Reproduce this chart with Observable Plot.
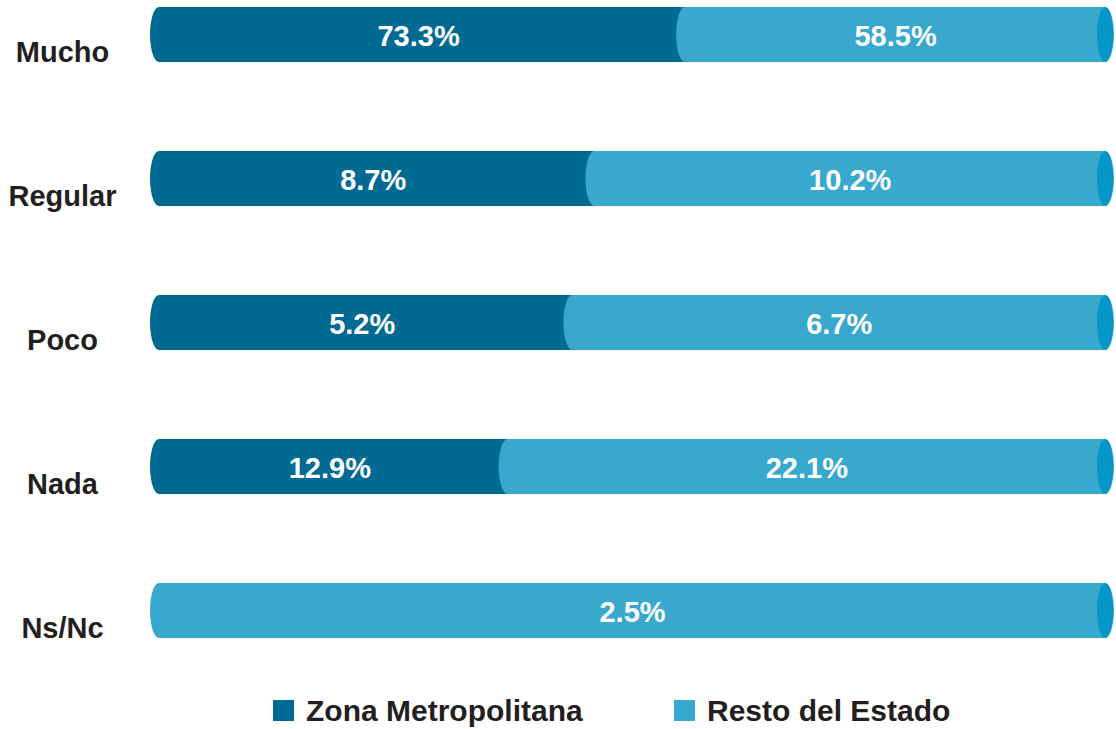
<!DOCTYPE html>
<html>
<head>
<meta charset="utf-8">
<script src="https://cdn.jsdelivr.net/npm/d3@7"></script>
<script src="https://cdn.jsdelivr.net/npm/@observablehq/plot@0.6"></script>
<style>
  html, body { margin: 0; padding: 0; background: #fff; }
  body { width: 1116px; height: 729px; overflow: hidden; font-family: "Liberation Sans", Arial, sans-serif; }
  #legend { position: relative; height: 49px; }
  .item { position: absolute; top: 20px; display: flex; align-items: center; font-weight: bold; font-size: 30px; color: #231f20; line-height: 21px; }
  .sw { width: 21px; height: 21px; margin-right: 12px; }
</style>
</head>
<body>
<div id="chart"></div>
<div id="legend"></div>
<script>
const categories = ["Mucho", "Regular", "Poco", "Nada", "Ns/Nc"];
const zona = [73.3, 8.7, 5.2, 12.9, 0];
const resto = [58.5, 10.2, 6.7, 22.1, 2.5];
const seriesNames = ["Zona Metropolitana", "Resto del Estado"];
const colors = ["#006a93", "#38a8cf"];
const capColor = "#0596c8";

const rows = categories.map((c, i) => {
  const t = zona[i] + resto[i];
  return {cat: c, zona: zona[i], resto: resto[i], split: zona[i] / t};
});
const fmt = v => v.toFixed(1) + "%";
const RX = 9;

const chart = Plot.plot({
  width: 1116,
  height: 680,
  marginLeft: 0, marginRight: 0, marginTop: 0, marginBottom: 0,
  x: {domain: [0, 1], range: [159, 1105], axis: null},
  y: {type: "band", domain: categories, range: [6, 639.5], paddingInner: 0.62, paddingOuter: 0, axis: null},
  style: {fontFamily: "'Liberation Sans', Arial, sans-serif"},
  marks: [
    Plot.barX(rows.filter(d => d.zona > 0), {x1: 0, x2: "split", y: "cat", fill: colors[0], rx: RX, ry: 40, insetLeft: -RX, insetRight: -RX}),
    Plot.barX(rows, {x1: "split", x2: 1, y: "cat", fill: colors[1], rx: RX, ry: 40, insetLeft: -RX, insetRight: -RX}),
    Plot.barX(rows, {x1: 1, x2: 1, y: "cat", fill: capColor, rx: 8, ry: 40, insetLeft: -8, insetRight: -8}),
    Plot.text(rows.filter(d => d.zona > 0), {x: d => d.split / 2, y: "cat", text: d => fmt(d.zona), fill: "white", fontWeight: "bold", fontSize: 29, dx: -4, dy: 2}),
    Plot.text(rows, {x: d => (d.split + 1) / 2, y: "cat", text: d => fmt(d.resto), fill: "white", fontWeight: "bold", fontSize: 29, dy: 2}),
    Plot.text(rows, {y: "cat", text: "cat", frameAnchor: "left", dx: 62, dy: 18, textAnchor: "middle", fill: "#231f20", fontWeight: "bold", fontSize: 29})
  ]
});
document.getElementById("chart").appendChild(chart);

const legend = document.getElementById("legend");
const lefts = [273, 674];
seriesNames.forEach((name, i) => {
  const it = document.createElement("div");
  it.className = "item";
  it.style.left = lefts[i] + "px";
  const sw = document.createElement("div");
  sw.className = "sw";
  sw.style.background = colors[i];
  it.appendChild(sw);
  const tx = document.createElement("span");
  tx.textContent = name;
  it.appendChild(tx);
  legend.appendChild(it);
});
</script>
</body>
</html>
